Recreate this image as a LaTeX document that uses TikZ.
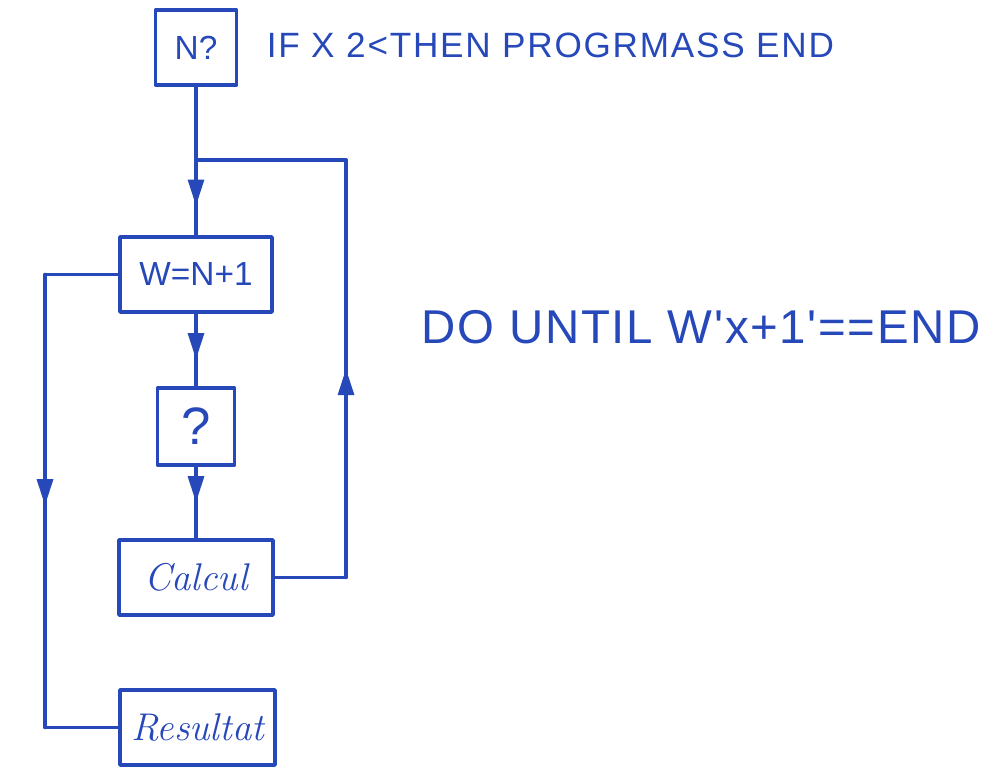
\documentclass[tikz,border=0pt]{standalone}
\usepackage{fontspec}
\setsansfont{Liberation Sans}
\newfontfamily\notefont[LetterSpace=5]{Liberation Sans}
\newfontfamily\untilfont[LetterSpace=3.5]{Liberation Sans}
\usetikzlibrary{arrows.meta,decorations.markings}
\definecolor{ink}{RGB}{38,72,185}
\begin{document}
\begin{tikzpicture}[x=0.02cm,y=-0.02cm,line join=round,line cap=round,
		color=ink,line width=2pt,font=\sffamily\fontsize{19}{22}\selectfont,
		box/.style={draw,inner sep=0pt},
		hand/.style={font=\rmfamily\itshape\fontsize{22}{26}\selectfont},
		midarrow/.style={postaction={decorate},decoration={markings,
			mark=at position #1 with {\arrow{Triangle[length=15pt,width=9pt]}}}}]
	\useasboundingbox (0,0) rectangle (983,767);
	% boxes
	\node[box,minimum width=1.62cm,minimum height=1.5cm] (n) at (196,47.5) {N?};
	\node[box,minimum width=3.04cm,minimum height=1.5cm] (w) at (196,274.5) {W=N+1};
	\node[box,minimum width=1.54cm,minimum height=1.54cm,font=\sffamily\fontsize{30}{34}\selectfont] (q) at (196,426.5) {?};
	\node[box,minimum width=3.08cm,minimum height=1.5cm,hand] (calc) at (196,577.5) {Calcul};
	\node[box,minimum width=3.1cm,minimum height=1.5cm,hand] (res) at (197.5,727.5) {Resultat};
	% notes
	\node[anchor=base west,inner sep=0pt,font=\notefont\fontsize{20}{24}\selectfont] (cond) at (265,58) {IF X 2<THEN PROGRMASS END};
	\node[anchor=base west,inner sep=0pt,font=\untilfont\fontsize{27}{30}\selectfont] (until) at (420,343) {DO UNTIL W'x+1'==END};
	% corners
	\coordinate (split) at (196,160);
	\coordinate (loopt) at (346,160);
	\coordinate (loopb) at (346,577.5);
	\coordinate (outt) at (45,274.5);
	\coordinate (outb) at (45,727.5);
	% flow
	\draw (n) -- (split);
	\draw[midarrow=0.61] (split) -- (w);
	\draw[midarrow=0.63] (w) -- (q);
	\draw[midarrow=0.5] (q) -- (calc);
	\draw (calc.east) -- (loopb);
	\draw[midarrow=0.5] (loopb) -- (loopt);
	\draw (loopt) -- (split);
	\draw (w.west) -- (outt);
	\draw[midarrow=0.51] (outt) -- (outb);
	\draw (outb) -- (res.west);
\end{tikzpicture}
\end{document}
